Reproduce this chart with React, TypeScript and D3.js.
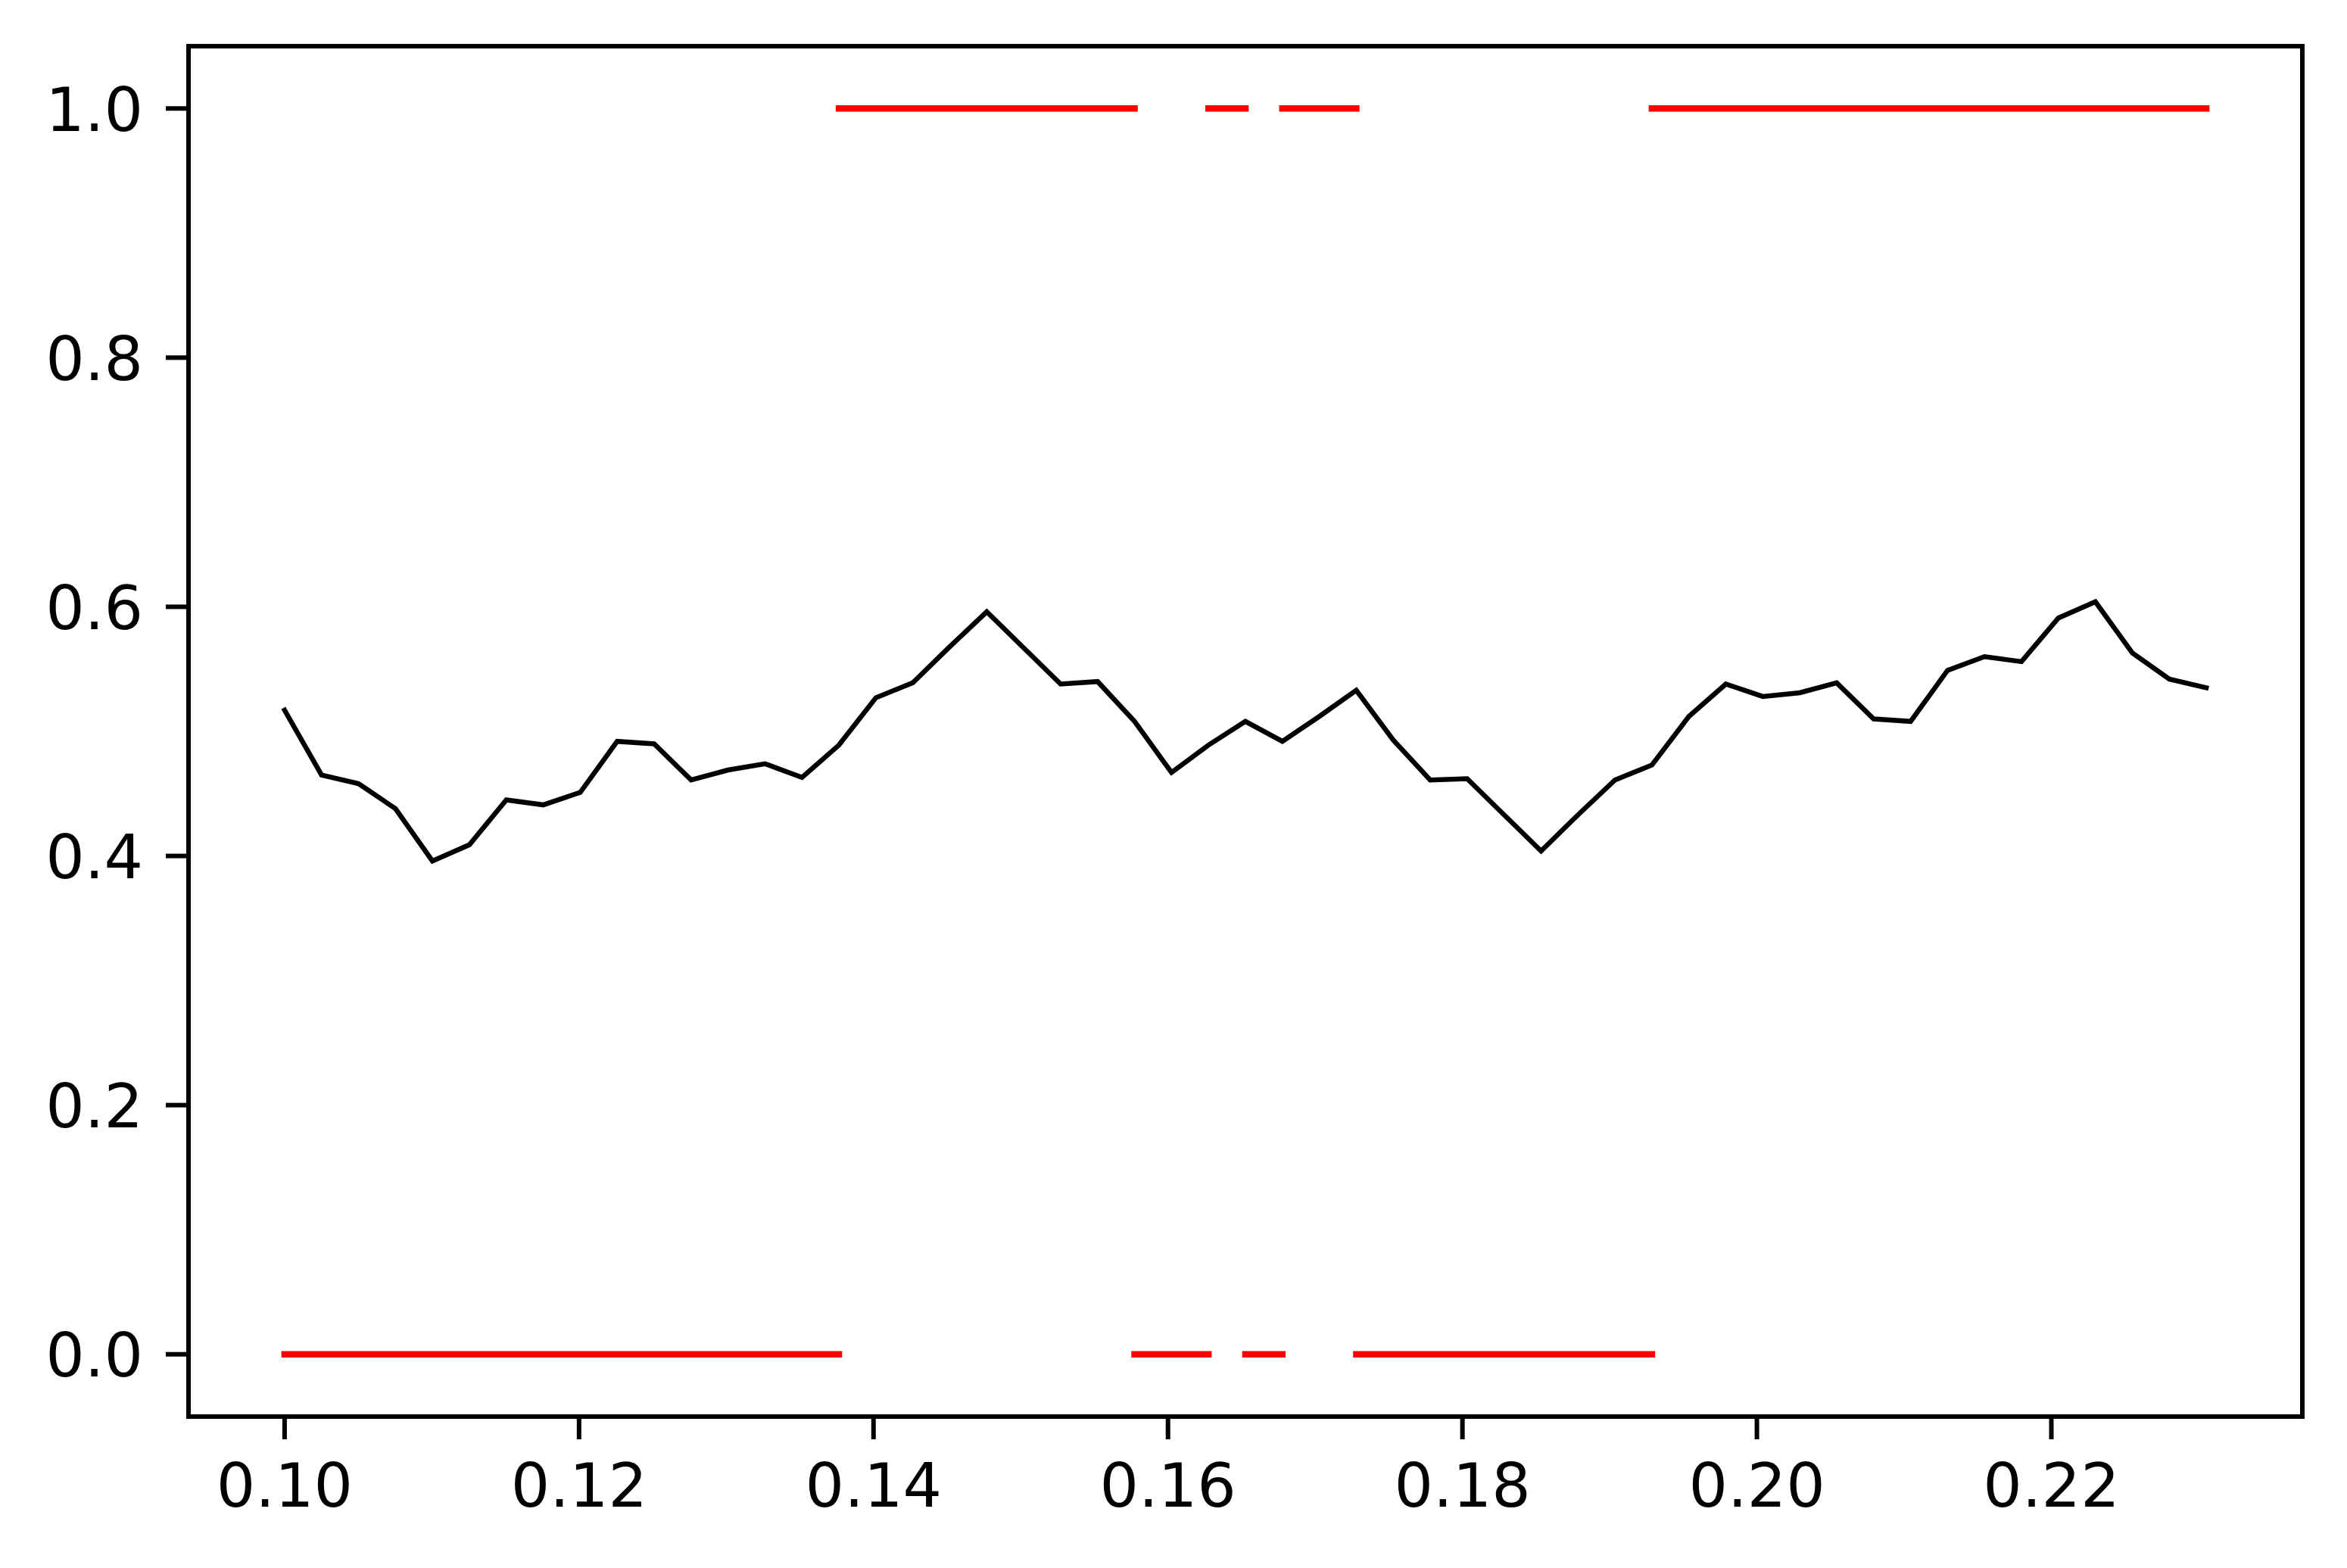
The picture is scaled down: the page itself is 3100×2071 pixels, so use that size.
import React from "react";
import * as d3 from "d3";

const xValues: number[] = [
  0.1, 0.10251, 0.10502, 0.10753, 0.11004, 0.11255, 0.11506, 0.11757, 0.12008, 0.12259,
  0.1251, 0.12761, 0.13012, 0.13263, 0.13514, 0.13765, 0.14016, 0.14267, 0.14518, 0.14769,
  0.1502, 0.15271, 0.15522, 0.15773, 0.16024, 0.16275, 0.16526, 0.16777, 0.17028, 0.17279,
  0.1753, 0.17781, 0.18032, 0.18283, 0.18534, 0.18785, 0.19036, 0.19287, 0.19538, 0.19789,
  0.2004, 0.20291, 0.20542, 0.20793, 0.21044, 0.21295, 0.21546, 0.21797, 0.22048, 0.22299,
  0.2255, 0.22801, 0.23052,
];

const yValues: number[] = [
  0.517, 0.465, 0.458, 0.438, 0.396, 0.409, 0.445, 0.441, 0.451, 0.492,
  0.49, 0.461, 0.469, 0.474, 0.463, 0.489, 0.527, 0.539, 0.568, 0.596,
  0.567, 0.538, 0.54, 0.508, 0.467, 0.489, 0.508, 0.492, 0.512, 0.533,
  0.493, 0.461, 0.462, 0.433, 0.404, 0.433, 0.461, 0.473, 0.512, 0.538,
  0.528, 0.531, 0.539, 0.51, 0.508, 0.549, 0.56, 0.556, 0.591, 0.604,
  0.563, 0.542, 0.535,
];

// red indicator segments: [startX, endX]
const highSegments: [number, number][] = [
  [0.13765, 0.15773],
  [0.16275, 0.16526],
  [0.16777, 0.17279],
  [0.19287, 0.23052],
];
const lowSegments: [number, number][] = [
  [0.1, 0.13765],
  [0.15773, 0.16275],
  [0.16526, 0.16777],
  [0.17279, 0.19287],
];
const highLevel = 1.0;
const lowLevel = 0.0;

const xTicks: number[] = [0.1, 0.12, 0.14, 0.16, 0.18, 0.2, 0.22];
const yTicks: number[] = [0.0, 0.2, 0.4, 0.6, 0.8, 1.0];

const W = 3100;
const H = 2071;
const left = 249;
const right = 3041;
const top = 61;
const bottom = 1871;

export default function App() {
  const x = d3.scaleLinear().domain([0.093474, 0.237046]).range([left, right]);
  const y = d3.scaleLinear().domain([-0.05, 1.05]).range([bottom, top]);

  const pts: [number, number][] = xValues.map((v, i) => [v, yValues[i]]);
  const line = d3
    .line<[number, number]>()
    .x((d) => x(d[0]))
    .y((d) => y(d[1]));

  const seg = (s: [number, number], lvl: number) =>
    line([
      [s[0], lvl],
      [s[1], lvl],
    ]) as string;

  const font = "'DejaVu Sans', sans-serif";
  const fs = 81;
  const tickLen = 30;
  const sw = 6;

  return (
    <svg
      width={W}
      height={H}
      style={{ position: "absolute", left: 0, top: 0, background: "#fff" }}
      xmlns="http://www.w3.org/2000/svg"
    >
      <rect x={0} y={0} width={W} height={H} fill="#fff" />
      <defs>
        <clipPath id="plotclip">
          <rect x={left} y={top} width={right - left} height={bottom - top} />
        </clipPath>
      </defs>
      <g clipPath="url(#plotclip)">
        {highSegments.map((s, i) => (
          <path key={"h" + i} d={seg(s, highLevel)} stroke="#ff0000" strokeWidth={8.5} fill="none" strokeLinecap="square" />
        ))}
        {lowSegments.map((s, i) => (
          <path key={"l" + i} d={seg(s, lowLevel)} stroke="#ff0000" strokeWidth={8.5} fill="none" strokeLinecap="square" />
        ))}
        <path d={line(pts) as string} stroke="#000" strokeWidth={6.5} fill="none" strokeLinejoin="miter" strokeLinecap="square" />
      </g>
      <rect
        x={left}
        y={top}
        width={right - left}
        height={bottom - top}
        fill="none"
        stroke="#000"
        strokeWidth={sw}
        strokeLinejoin="miter"
      />
      {xTicks.map((t) => (
        <g key={"xt" + t}>
          <line x1={x(t)} x2={x(t)} y1={bottom} y2={bottom + tickLen} stroke="#000" strokeWidth={sw} />
          <text
            x={x(t)}
            y={bottom + tickLen + 30 + fs * 0.729}
            textAnchor="middle"
            fontFamily={font}
            fontSize={fs}
            fill="#000"
          >
            {d3.format(".2f")(t)}
          </text>
        </g>
      ))}
      {yTicks.map((t) => (
        <g key={"yt" + t}>
          <line x1={left - tickLen} x2={left} y1={y(t)} y2={y(t)} stroke="#000" strokeWidth={sw} />
          <text
            x={left - tickLen - 30}
            y={y(t) + fs * 0.3645}
            textAnchor="end"
            fontFamily={font}
            fontSize={fs}
            fill="#000"
          >
            {d3.format(".1f")(t)}
          </text>
        </g>
      ))}
    </svg>
  );
}
